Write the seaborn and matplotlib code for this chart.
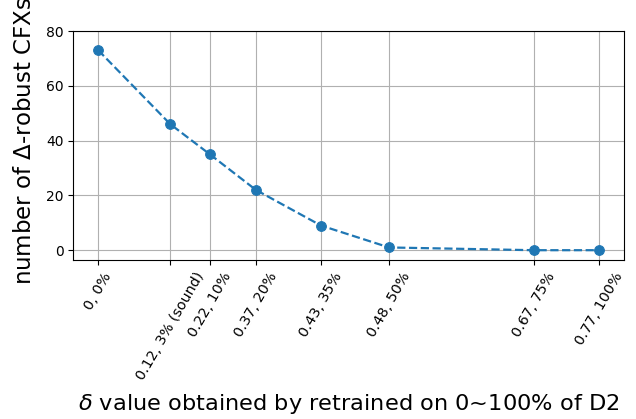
import numpy as np
import pandas as pd
import matplotlib
matplotlib.use('Agg')
import matplotlib.pyplot as plt
import seaborn as sns

# x positions of the retraining runs (relative delta scale) and counts
delta_pos = [0.0, 0.144, 0.223, 0.315, 0.445, 0.581, 0.870, 1.0]
robust_counts = [73, 46, 35, 22, 9, 1, 0, 0]
tick_labels = ['0, 0%', '0.12, 3% (sound)', '0.22, 10%', '0.37, 20%',
               '0.43, 35%', '0.48, 50%', '0.67, 75%', '0.77, 100%']

df = pd.DataFrame({'delta': delta_pos, 'count': robust_counts})

fig, ax = plt.subplots(figsize=(6.36, 4.19), dpi=100)
sns.lineplot(data=df, x='delta', y='count', ax=ax, color='#1f77b4',
             marker='o', linestyle='--', markersize=7,
             markeredgecolor='#1f77b4', linewidth=1.6)
ax.grid(True, color='#b0b0b0', linewidth=0.8)
ax.set_axisbelow(True)
ax.set_xticks(delta_pos)
ax.set_xticklabels(tick_labels, rotation=60, fontsize=10.3)
ax.set_yticks([0, 20, 40, 60, 80])
ax.set_ylim(-3.65, 80)
ax.set_xlabel(r'$\delta$ value obtained by retrained on 0~100% of D2', fontsize=16.2)
ax.set_ylabel(r'number of $\Delta$-robust CFXs', fontsize=16.5)
ax.xaxis.set_label_coords(0.5, -0.573)
ax.yaxis.set_label_coords(-0.068, 0.522)

plt.subplots_adjust(left=0.115, right=0.981, top=0.926, bottom=0.379)
plt.savefig('out.png', dpi=100)
